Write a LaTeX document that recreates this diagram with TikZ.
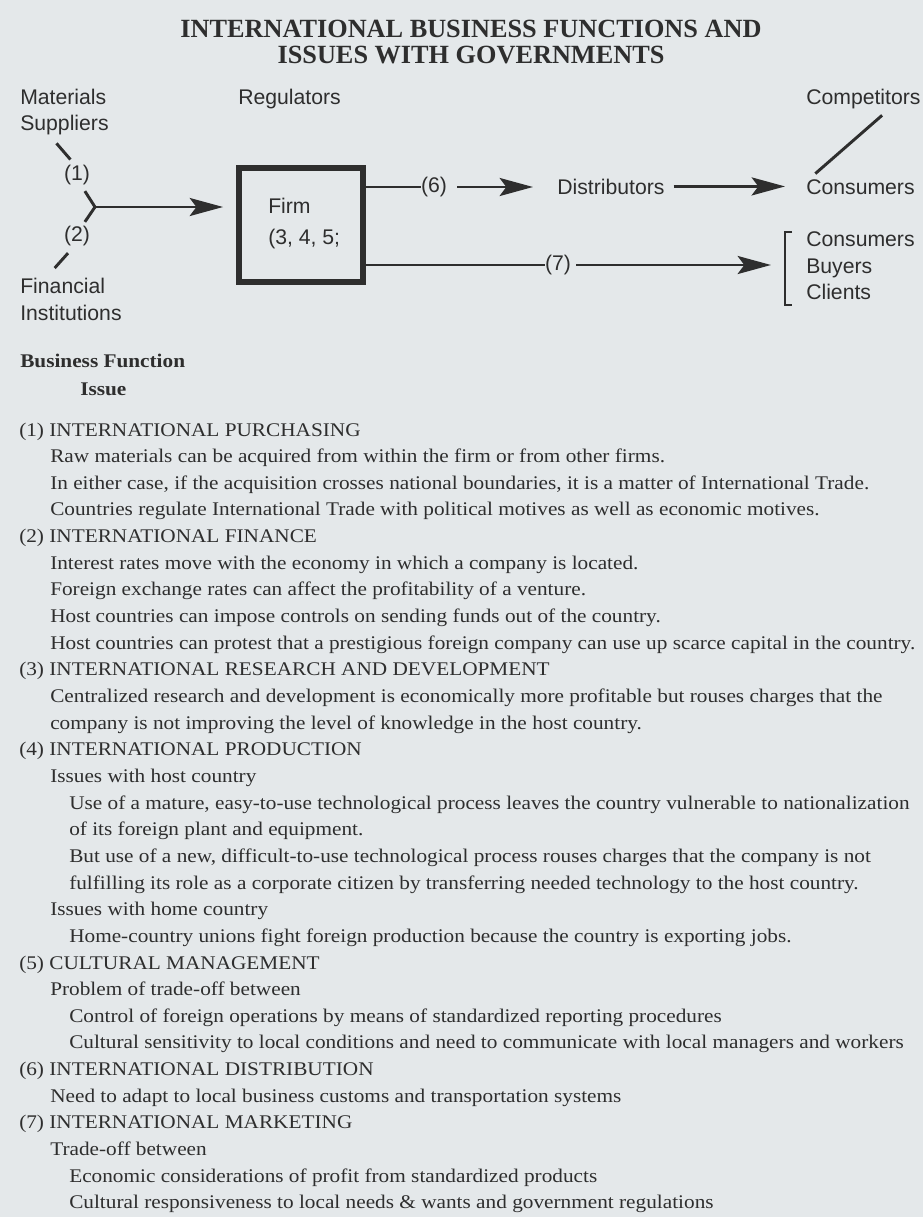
\documentclass[tikz,border=0pt]{standalone}
\usepackage{fontspec}
\setmainfont[FakeStretch=1.1]{Liberation Serif}
\newfontfamily\diagfont{Liberation Sans}
\newfontfamily\headfont{Liberation Serif}
\usetikzlibrary{positioning, arrows.meta}
\definecolor{paper}{HTML}{E4E8EA}
\definecolor{ink}{HTML}{2E2E2E}

\begin{document}
\begin{tikzpicture}[x=0.75pt, y=-0.75pt,
    diag/.style={font={\diagfont\fontsize{15.9}{19}\selectfont}, text=ink, inner sep=0pt},
    body/.style={font={\fontsize{14.5}{17}\selectfont}, text=ink, inner sep=0pt, anchor=base west},
    head/.style={font={\headfont\bfseries\fontsize{19.7}{24}\selectfont}, text=ink, inner sep=0pt, anchor=base},
    wire/.style={draw=ink, line width=2.2pt},
    arr/.style={wire, -{Stealth[length=25pt, width=13.5pt, inset=5pt]}},
    firmbox/.style={draw=ink, line width=4.9pt, minimum width=93pt, minimum height=85.5pt, inner sep=0pt}]
  \path[use as bounding box, fill=paper] (0,0) rectangle (923,1217);

  \node[head] (titleA) at (471,37) {INTERNATIONAL BUSINESS FUNCTIONS AND};
  \node[head] (titleB) at (471,63) {ISSUES WITH GOVERNMENTS};

  \node[diag, anchor=base west] (matA) at (20,104) {Materials};
  \node[diag, anchor=base west] (matB) at (20,130) {Suppliers};
  \node[diag, anchor=base west] (regul) at (238,104) {Regulators};
  \node[diag, anchor=base west] (compet) at (806,104) {Competitors};
  \node[diag] (lbl1) at (77,175) {(1)};
  \node[diag] (lbl2) at (77,236) {(2)};
  \node[diag, anchor=base west] (finA) at (20,293) {Financial};
  \node[diag, anchor=base west] (finB) at (20,320) {Institutions};
  \node[firmbox] (firm) at (301,225) {};
  \node[diag, anchor=base west] (firmA) at (268,213) {Firm};
  \node[diag, anchor=base west] (firmB) at (268,244) {(3, 4, 5;};
  \node[diag] (lbl6) at (434,187) {(6)};
  \node[diag, anchor=base west] (distrib) at (557,194) {Distributors};
  \node[diag, anchor=base west] (consA) at (806,194) {Consumers};
  \node[diag] (lbl7) at (558,265) {(7)};
  \node[diag, anchor=base west] (consB) at (806,246) {Consumers};
  \node[diag, anchor=base west] (buyers) at (806,273) {Buyers};
  \node[diag, anchor=base west] (clients) at (806,299) {Clients};
  \coordinate (fork) at (95,207);
  \coordinate (brk) at (785,265);

  \draw[wire] ([xshift=-6pt,yshift=-6.5pt]matB.south) -- ([xshift=5pt,yshift=4pt]lbl1.north west);
  \draw[wire] ([xshift=-4pt,yshift=-4.5pt]lbl1.south east) -- (fork) -- ([xshift=-4pt,yshift=3pt]lbl2.north east);
  \draw[wire] ([xshift=-6.75pt,yshift=-5.25pt]lbl2.south) -- ([xshift=26pt,yshift=7pt]finA.north west);
  \draw[arr, shorten >=9.5pt] (fork) -- (fork -| firm.west);
  \draw[wire] (firm.east |- lbl6) -- (lbl6.west);
  \draw[arr, shorten <=7.5pt, shorten >=18pt] (lbl6.east) -- (lbl6.east -| distrib.west);
  \draw[arr, shorten <=6.75pt, shorten >=15.75pt] (distrib.east) -- (distrib.east -| consA.west);
  \draw[wire] ([xshift=14pt,yshift=-5pt]compet.south) -- ([xshift=7pt,yshift=4pt]consA.north west);
  \draw[wire] (firm.east |- lbl7) -- (lbl7.west);
  \draw[arr, shorten <=3.75pt, shorten >=10.5pt] (lbl7.east) -- (brk);
  \draw[wire, line width=2pt] (792,232) -- (785,232) -- (785,305) -- (792,305);

  \node[body, font={\bfseries\fontsize{14.5}{17}\selectfont}] (bizfn) at (20,367) {Business Function};
  \node[body, font={\bfseries\fontsize{14.5}{17}\selectfont}] (issue) at (80,395) {Issue};
  \foreach \lv/\tx [count=\i from 0] in {
      0/{(1) INTERNATIONAL PURCHASING},
      1/{Raw materials can be acquired from within the firm or from other firms.},
      1/{In either case, if the acquisition crosses national boundaries, it is a matter of International Trade.},
      1/{Countries regulate International Trade with political motives as well as economic motives.},
      0/{(2) INTERNATIONAL FINANCE},
      1/{Interest rates move with the economy in which a company is located.},
      1/{Foreign exchange rates can affect the profitability of a venture.},
      1/{Host countries can impose controls on sending funds out of the country.},
      1/{Host countries can protest that a prestigious foreign company can use up scarce capital in the country.},
      0/{(3) INTERNATIONAL RESEARCH AND DEVELOPMENT},
      1/{Centralized research and development is economically more profitable but rouses charges that the},
      1/{company is not improving the level of knowledge in the host country.},
      0/{(4) INTERNATIONAL PRODUCTION},
      1/{Issues with host country},
      2/{Use of a mature, easy-to-use technological process leaves the country vulnerable to nationalization},
      2/{of its foreign plant and equipment.},
      2/{But use of a new, difficult-to-use technological process rouses charges that the company is not},
      2/{fulfilling its role as a corporate citizen by transferring needed technology to the host country.},
      1/{Issues with home country},
      2/{Home-country unions fight foreign production because the country is exporting jobs.},
      0/{(5) CULTURAL MANAGEMENT},
      1/{Problem of trade-off between},
      2/{Control of foreign operations by means of standardized reporting procedures},
      2/{Cultural sensitivity to local conditions and need to communicate with local managers and workers},
      0/{(6) INTERNATIONAL DISTRIBUTION},
      1/{Need to adapt to local business customs and transportation systems},
      0/{(7) INTERNATIONAL MARKETING},
      1/{Trade-off between},
      2/{Economic considerations of profit from standardized products},
      2/{Cultural responsiveness to local needs \& wants and government regulations}}{
    \pgfmathsetmacro\xx{{19,50,69}[\lv]}
    \node[body] (ln\i) at (\xx,{436+26.65*\i}) {\tx};
  }
\end{tikzpicture}
\end{document}
